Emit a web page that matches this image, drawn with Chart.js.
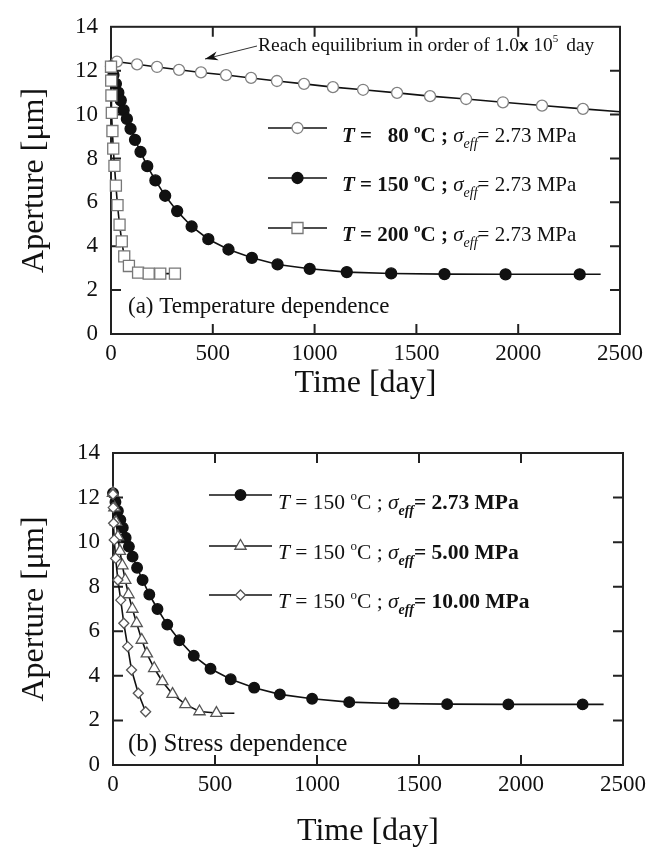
<!DOCTYPE html>
<html><head><meta charset="utf-8">
<script src="https://cdn.jsdelivr.net/npm/chart.js@4.4.1/dist/chart.umd.min.js"></script>
<style>
html,body{margin:0;padding:0;background:#fff;}
#wrap{position:relative;width:665px;height:848px;background:#fff;}
.box{position:absolute;left:0;width:665px;height:424px;}
</style></head><body>
<div id="wrap">
<div class="box" style="top:0"><canvas id="c1" width="665" height="424"></canvas></div>
<div class="box" style="top:424px"><canvas id="c2" width="665" height="424"></canvas></div>
</div>
<script>
// ---------- data ----------
const xTickValues = [0, 500, 1000, 1500, 2000, 2500];
const yTickValues = [0, 2, 4, 6, 8, 10, 12, 14];

// (a) temperature dependence, sigma_eff = 2.73 MPa
const days80  = [0, 29, 128, 226, 334, 442, 565, 688, 815, 948, 1090, 1238, 1405, 1567, 1744, 1925, 2117, 2318, 2500];
const ap80    = [12.45, 12.41, 12.29, 12.17, 12.04, 11.92, 11.80, 11.67, 11.53, 11.40, 11.25, 11.13, 10.99, 10.84, 10.71, 10.56, 10.41, 10.26, 10.13];
const days150 = [0, 12, 24, 36, 48, 62, 78, 96, 118, 145, 178, 218, 266, 325, 396, 478, 577, 692, 818, 976, 1158, 1376, 1638, 1938, 2302, 2405];
const ap150   = [12.2, 11.8, 11.4, 11.0, 10.65, 10.2, 9.8, 9.35, 8.85, 8.3, 7.65, 7.0, 6.3, 5.6, 4.9, 4.32, 3.85, 3.47, 3.17, 2.97, 2.82, 2.76, 2.73, 2.72, 2.72, 2.72];
const days200 = [0, 1, 2, 4, 7, 11, 17, 24, 32, 42, 53, 65, 88, 133, 185, 242, 314];
const ap200   = [12.18, 11.55, 10.87, 10.08, 9.25, 8.45, 7.66, 6.76, 5.87, 4.98, 4.22, 3.54, 3.1, 2.8, 2.75, 2.75, 2.75];

// (b) stress dependence, T = 150 C
const daysS273 = days150;
const apS273   = ap150;
const daysS500 = [0, 7, 15, 24, 34, 46, 60, 76, 95, 116, 141, 166, 202, 242, 292, 355, 424, 507, 595];
const apS500   = [12.2, 11.55, 10.9, 10.25, 9.6, 8.95, 8.3, 7.65, 7.0, 6.36, 5.61, 5.0, 4.34, 3.75, 3.18, 2.72, 2.4, 2.33, 2.32];
const daysS1000 = [0, 1, 3, 6, 13, 24, 38, 53, 72, 91, 124, 160];
const apS1000   = [12.15, 11.55, 10.85, 10.1, 9.27, 8.3, 7.4, 6.36, 5.31, 4.26, 3.22, 2.39];

// ---------- helpers ----------
const SERIF = '"Liberation Serif", "Times New Roman", serif';
const pts = (xs, ys) => xs.map((x, i) => ({x: x, y: ys[i]}));

function ds(label, xs, ys, style, radius, fill, stroke, noMarker) {
  return {
    label: label,
    data: pts(xs, ys),
    showLine: true,
    borderColor: '#111',
    borderWidth: 1.6,
    pointStyle: style,
    pointRadius: c => (noMarker.indexOf(c.dataIndex) >= 0 ? 0 : radius),
    pointBackgroundColor: fill,
    pointBorderColor: stroke,
    pointBorderWidth: 1.3,
    tension: 0,
    clip: false
  };
}

function rich(ctx, x, y, parts) {
  let cx = x;
  ctx.textBaseline = 'alphabetic';
  ctx.textAlign = 'left';
  ctx.fillStyle = '#111';
  parts.forEach(p => {
    ctx.font = p.f;
    ctx.fillText(p.t, cx + (p.dx || 0), y + (p.dy || 0));
    cx += ctx.measureText(p.t).width + (p.dx || 0);
  });
}

function marker(ctx, style, x, y, r, fill, stroke) {
  ctx.save();
  ctx.fillStyle = fill; ctx.strokeStyle = stroke; ctx.lineWidth = 1.3;
  ctx.beginPath();
  if (style === 'circle') ctx.arc(x, y, r, 0, Math.PI * 2);
  else if (style === 'rect') { const s = r * Math.SQRT1_2; ctx.rect(x - s, y - s, 2 * s, 2 * s); }
  else if (style === 'triangle') { ctx.moveTo(x, y - r); ctx.lineTo(x + r * 0.866, y + r * 0.5); ctx.lineTo(x - r * 0.866, y + r * 0.5); ctx.closePath(); }
  else if (style === 'rectRot') { ctx.moveTo(x, y - r); ctx.lineTo(x + r, y); ctx.lineTo(x, y + r); ctx.lineTo(x - r, y); ctx.closePath(); }
  ctx.fill(); ctx.stroke();
  ctx.restore();
}

const framePlugin = {
  id: 'frameTicks',
  beforeDatasetsDraw(chart) {
    const {ctx, chartArea: a, scales: {x, y}} = chart;
    ctx.save();
    ctx.strokeStyle = '#222'; ctx.lineWidth = 2;
    ctx.strokeRect(a.left, a.top, a.right - a.left, a.bottom - a.top);
    const L = 10;
    ctx.beginPath();
    xTickValues.slice(1, -1).forEach(v => {
      const px = x.getPixelForValue(v);
      ctx.moveTo(px, a.bottom); ctx.lineTo(px, a.bottom - L);
      ctx.moveTo(px, a.top); ctx.lineTo(px, a.top + L);
    });
    yTickValues.slice(1, -1).forEach(v => {
      const py = y.getPixelForValue(v);
      ctx.moveTo(a.left, py); ctx.lineTo(a.left + L, py);
      ctx.moveTo(a.right, py); ctx.lineTo(a.right - L, py);
    });
    ctx.stroke();
    ctx.restore();
  }
};

const legendPlugin = {
  id: 'richLegend',
  afterDraw(chart, args, opts) {
    const ctx = chart.ctx;
    ctx.save();
    (opts.rows || []).forEach(r => {
      ctx.strokeStyle = '#111'; ctx.lineWidth = 1.6;
      ctx.beginPath(); ctx.moveTo(r.x1, r.y); ctx.lineTo(r.x2, r.y); ctx.stroke();
      marker(ctx, r.style, (r.x1 + r.x2) / 2, r.y, r.r, r.fill, r.stroke);
      rich(ctx, r.tx, r.ty, r.parts);
    });
    (opts.notes || []).forEach(n => rich(ctx, n.x, n.y, n.parts));
    if (opts.arrow) {
      const A = opts.arrow;
      ctx.strokeStyle = '#333'; ctx.fillStyle = '#111'; ctx.lineWidth = 1;
      ctx.beginPath(); ctx.moveTo(A.x1, A.y1); ctx.lineTo(A.x2, A.y2); ctx.stroke();
      const ang = Math.atan2(A.y2 - A.y1, A.x2 - A.x1);
      const hl = 13, hw = 4.5;
      const bx = A.x2 - hl * Math.cos(ang), by = A.y2 - hl * Math.sin(ang);
      ctx.beginPath();
      ctx.moveTo(A.x2, A.y2);
      ctx.lineTo(bx + hw * Math.sin(ang), by - hw * Math.cos(ang));
      ctx.lineTo(A.x2 - 9 * Math.cos(ang), A.y2 - 9 * Math.sin(ang));
      ctx.lineTo(bx - hw * Math.sin(ang), by + hw * Math.cos(ang));
      ctx.closePath(); ctx.fill();
    }
    ctx.restore();
  }
};

function scalesCfg(yAxisWidth, xAxisHeight, xTitlePad) {
  return {
    x: {
      type: 'linear', min: 0, max: 2500,
      afterBuildTicks: s => { s.ticks = xTickValues.map(v => ({value: v})); },
      ticks: {color: '#111', font: {family: SERIF, size: 23}, padding: 6, maxRotation: 0, callback: v => String(v)},
      grid: {display: false, drawTicks: false},
      border: {display: false},
      title: {display: true, text: 'Time [day]', color: '#111', font: {family: SERIF, size: 32, lineHeight: 1}, padding: {top: 0, bottom: xTitlePad}},
      afterFit: s => { s.height = xAxisHeight; }
    },
    y: {
      type: 'linear', min: 0, max: 14,
      afterBuildTicks: s => { s.ticks = yTickValues.map(v => ({value: v})); },
      ticks: {color: '#111', font: {family: SERIF, size: 23}, padding: 13, callback: v => String(v)},
      grid: {display: false, drawTicks: false},
      border: {display: false},
      title: {display: true, text: 'Aperture [μm]', color: '#111', font: {family: SERIF, size: 32, lineHeight: 1}, padding: {top: 19, bottom: 0}},
      afterFit: s => { s.width = yAxisWidth; }
    }
  };
}

const B = (s) => 'bold ' + s + 'px ' + SERIF;
const BI = (s) => 'italic bold ' + s + 'px ' + SERIF;
const R = (s) => s + 'px ' + SERIF;
const I = (s) => 'italic ' + s + 'px ' + SERIF;

function topLegendParts(tempText) {
  return [
    {t: 'T', f: BI(21)}, {t: tempText, f: B(21)}, {t: 'o', f: B(13), dy: -9},
    {t: 'C ; ', f: B(21)}, {t: 'σ', f: I(21)}, {t: 'eff', f: I(14), dy: 6},
    {t: '= 2.73 MPa', f: R(21)}
  ];
}
function botLegendParts(stressText) {
  return [
    {t: 'T', f: I(21.5)}, {t: ' = 150 ', f: R(21.5)}, {t: 'o', f: R(13), dy: -9},
    {t: 'C ; ', f: R(21.5)}, {t: 'σ', f: I(21.5)}, {t: 'eff', f: BI(14), dy: 6},
    {t: '= ' + stressText + ' MPa', f: B(21.5)}
  ];
}

// ---------- chart (a) ----------
new Chart(document.getElementById('c1'), {
  type: 'scatter',
  data: {
    datasets: [
      ds('T = 200 °C', days200, ap200, 'rect', 7.8, '#fff', '#777', []),
      ds('T = 150 °C', days150, ap150, 'circle', 5.5, '#111', '#111', [days150.length - 1]),
      ds('T = 80 °C', days80, ap80, 'circle', 5.5, '#fff', '#808080', [0, days80.length - 1])
    ]
  },
  options: {
    responsive: false, animation: false,
    layout: {padding: {left: 0, top: 22, right: 45, bottom: 0}},
    scales: scalesCfg(111, 90, 24),
    plugins: {
      legend: {display: false}, tooltip: {enabled: false},
      richLegend: {
        rows: [
          {x1: 268, x2: 327, y: 128, style: 'circle', r: 5.5, fill: '#fff', stroke: '#808080', tx: 342, ty: 142, parts: topLegendParts(' =   80 ')},
          {x1: 268, x2: 327, y: 178, style: 'circle', r: 5.5, fill: '#111', stroke: '#111', tx: 342, ty: 191, parts: topLegendParts(' = 150 ')},
          {x1: 268, x2: 327, y: 228, style: 'rect', r: 7.8, fill: '#fff', stroke: '#777', tx: 342, ty: 241, parts: topLegendParts(' = 200 ')}
        ],
        notes: [
          {x: 258, y: 51, parts: [{t: 'Reach equilibrium in order of 1.0', f: R(19.5)}, {t: 'x', f: 'bold 17px "Liberation Sans", Arial, sans-serif'}, {t: ' 10', f: R(19.5)}, {t: '5', f: R(11), dy: -9}, {t: ' day', f: R(19.5), dx: 3}]},
          {x: 128, y: 313, parts: [{t: '(a) Temperature dependence', f: R(23)}]}
        ],
        arrow: {x1: 257, y1: 46, x2: 205, y2: 59}
      }
    }
  },
  plugins: [framePlugin, legendPlugin]
});

// ---------- chart (b) ----------
new Chart(document.getElementById('c2'), {
  type: 'scatter',
  data: {
    datasets: [
      ds('σeff = 10.00 MPa', daysS1000, apS1000, 'rectRot', 5, '#fff', '#555', []),
      ds('σeff = 5.00 MPa', daysS500, apS500, 'triangle', 6.5, '#fff', '#555', [daysS500.length - 1]),
      ds('σeff = 2.73 MPa', daysS273, apS273, 'circle', 5.3, '#111', '#111', [daysS273.length - 1])
    ]
  },
  options: {
    responsive: false, animation: false,
    layout: {padding: {left: 0, top: 29, right: 42, bottom: 0}},
    scales: scalesCfg(113, 83, 0),
    plugins: {
      legend: {display: false}, tooltip: {enabled: false},
      richLegend: {
        rows: [
          {x1: 209, x2: 272, y: 71, style: 'circle', r: 5.3, fill: '#111', stroke: '#111', tx: 278, ty: 85, parts: botLegendParts('2.73')},
          {x1: 209, x2: 272, y: 122, style: 'triangle', r: 6.5, fill: '#fff', stroke: '#555', tx: 278, ty: 135, parts: botLegendParts('5.00')},
          {x1: 209, x2: 272, y: 171, style: 'rectRot', r: 5, fill: '#fff', stroke: '#555', tx: 278, ty: 184, parts: botLegendParts('10.00')}
        ],
        notes: [
          {x: 128, y: 327, parts: [{t: '(b) Stress dependence', f: R(25)}]}
        ]
      }
    }
  },
  plugins: [framePlugin, legendPlugin]
});
</script>
</body></html>
